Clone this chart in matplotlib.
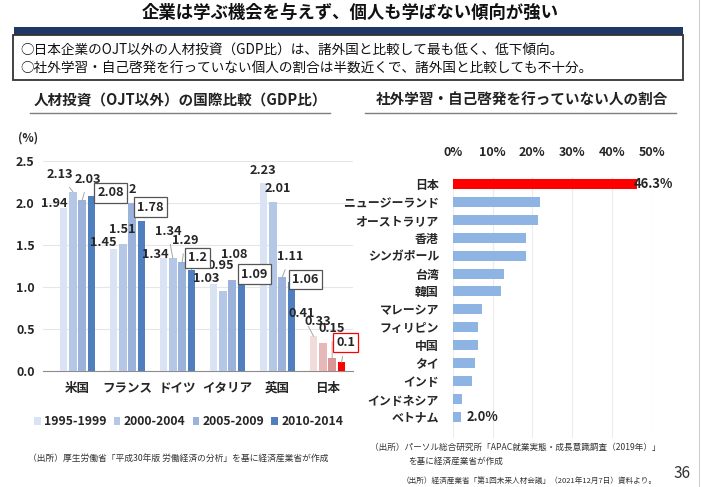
import matplotlib
matplotlib.use("Agg")
import matplotlib.pyplot as plt
from matplotlib.patches import Rectangle
from matplotlib.lines import Line2D
import numpy as np

plt.rcParams['font.family'] = ['Noto Sans CJK JP', 'DejaVu Sans']

# ---------------- data ----------------
countries_left = ['米国', 'フランス', 'ドイツ', 'イタリア', '英国', '日本']
periods = ['1995-1999', '2000-2004', '2005-2009', '2010-2014']
v_1995 = [1.94, 1.45, 1.34, 1.03, 2.23, 0.41]
v_2000 = [2.13, 1.51, 1.34, 0.95, 2.01, 0.33]
v_2005 = [2.03, 2.00, 1.29, 1.08, 1.11, 0.15]
v_2010 = [2.08, 1.78, 1.20, 1.09, 1.06, 0.10]
label_text = [
    ['1.94', '2.13', '2.03', '2.08'],
    ['1.45', '1.51', '2', '1.78'],
    ['1.34', '1.34', '1.29', '1.2'],
    ['1.03', '0.95', '1.08', '1.09'],
    ['2.23', '2.01', '1.11', '1.06'],
    ['0.41', '0.33', '0.15', '0.1'],
]
yticks_left = [0.0, 0.5, 1.0, 1.5, 2.0, 2.5]

countries_right = ['日本', 'ニュージーランド', 'オーストラリア', '香港', 'シンガポール', '台湾',
                   '韓国', 'マレーシア', 'フィリピン', '中国', 'タイ', 'インド', 'インドネシア', 'ベトナム']
share_right = [46.3, 22.0, 21.4, 18.3, 18.3, 12.9, 12.2, 7.4, 6.4, 6.3, 5.7, 4.9, 2.3, 2.0]
xticks_right = [0, 10, 20, 30, 40, 50]

# ---------------- style ----------------
blue_cols = ['#dae3f3', '#b4c7e7', '#9bb3da', '#4f7fbf']
japan_cols = ['#f2dcdb', '#e6b9b8', '#d99694', '#ff0000']
# label offsets (pixels) from bar top, leader line?
offsets = [
    [(-9, 4, 0), (-13, 17, 1), (6, 21, 1), (19, 3, 0)],
    [(-10, 6, 0), (-1, 14, 0), (0, 13, 0), (9, 14, 0)],
    [(-8, 4, 0), (-5, 27, 1), (3, 22, 1), (6, 12, 1)],
    [(-7, 6, 0), (-2, 25, 0), (2, 25, 0), (13, 5, 0)],
    [(-1, 13, 0), (5, 13, 0), (8, 21, 1), (14, 2, 0)],
    [(-12, 23, 1), (-5, 21, 0), (0, 30, 1), (4, 20, 1)],
]

W, H = 701, 487
fig = plt.figure(figsize=(W / 100, H / 100), dpi=100)

def fx(px):
    return px / W

def fy(py):
    return 1 - py / H

# page border on the right
fig.lines.append(Line2D([fx(699), fx(699)], [0, 1], transform=fig.transFigure,
                        color='#d0d0d0', linewidth=0.8))

# ---------- header ----------
fig.text(fx(350), fy(13), '企業は学ぶ機会を与えず、個人も学ばない傾向が強い',
         ha='center', va='center', fontsize=12.5, fontweight='bold', color='#111111')
fig.patches.append(Rectangle((fx(14), fy(35)), fx(669), 8 / H, transform=fig.transFigure,
                             facecolor='#1f3864', edgecolor='none'))
fig.patches.append(Rectangle((fx(13.5), fy(80)), fx(669.5), 45 / H, transform=fig.transFigure,
                             facecolor='white', edgecolor='#333333', linewidth=1.3))
fig.text(fx(20), fy(51), '○日本企業のOJT以外の人材投資（GDP比）は、諸外国と比較して最も低く、低下傾向。',
         ha='left', va='center', fontsize=9.8, color='#111111')
fig.text(fx(20), fy(69), '○社外学習・自己啓発を行っていない個人の割合は半数近くで、諸外国と比較しても不十分。',
         ha='left', va='center', fontsize=9.8, color='#111111')

# sub titles
fig.text(fx(180), fy(100), '人材投資（OJT以外）の国際比較（GDP比）', ha='center', va='center',
         fontsize=10.5, fontweight='bold', color='#222222')
fig.lines.append(Line2D([fx(30), fx(330)], [fy(113), fy(113)], transform=fig.transFigure,
                        color='#7f7f7f', linewidth=1))
fig.text(fx(522), fy(100), '社外学習・自己啓発を行っていない人の割合', ha='center', va='center',
         fontsize=10.5, fontweight='bold', color='#222222')
fig.lines.append(Line2D([fx(365), fx(676)], [fy(113), fy(113)], transform=fig.transFigure,
                        color='#7f7f7f', linewidth=1))

# ---------- left chart ----------
axL = fig.add_axes([fx(43), fy(370.7), fx(310), 210 / H])
x = np.arange(len(countries_left))
series = [v_1995, v_2000, v_2005, v_2010]
bw = 0.15
step = 0.186
for k, vals in enumerate(series):
    cols = [blue_cols[k]] * (len(vals) - 1) + [japan_cols[k]]
    xs = x + (k - 1.5) * step
    axL.bar(xs, vals, width=bw, color=cols, zorder=3, label=periods[k])
    for i, v in enumerate(vals):
        dx, dy, lead = offsets[i][k]
        bbox = None
        if k == 3:
            ec = '#ff0000' if i == len(vals) - 1 else '#555555'
            bbox = dict(boxstyle='square,pad=0.25', facecolor='white', edgecolor=ec, linewidth=0.9)
        arrow = None
        if lead:
            arrow = dict(arrowstyle='-', color='#a6a6a6', linewidth=0.7, shrinkA=3, shrinkB=0)
        axL.annotate(label_text[i][k], xy=(xs[i], v), xytext=(dx, dy), textcoords='offset pixels',
                     ha='center', va='center', fontsize=9.2, fontweight='bold', color='#262626',
                     bbox=bbox, arrowprops=arrow, zorder=5, annotation_clip=False)
axL.set_xlim(-0.69, 5.51)
axL.set_ylim(0, 2.5)
axL.set_yticks(yticks_left)
axL.set_yticklabels([f'{t:.1f}' for t in yticks_left], fontsize=9, fontweight='bold', color='#262626')
axL.set_xticks(x)
axL.set_xticklabels(countries_left, fontsize=9, fontweight='bold', color='#262626')
axL.tick_params(axis='both', length=0)
axL.tick_params(axis='y', pad=6)
axL.tick_params(axis='x', pad=8)
axL.yaxis.grid(True, color='#e6e6e6', linewidth=0.8, zorder=0)
for s in ['top', 'right', 'left']:
    axL.spines[s].set_visible(False)
axL.spines['bottom'].set_color('#8c8c8c')
axL.set_axisbelow(True)
fig.text(fx(28), fy(138), '(%)', ha='center', va='center', fontsize=8.5, fontweight='bold', color='#262626')

leg = axL.legend(loc='upper center', bbox_to_anchor=(0.47, -0.16), ncol=4, frameon=False,
                 handlelength=0.55, handleheight=0.7, handletextpad=0.25,
                 columnspacing=0.6, prop={'weight': 'bold', 'size': 8.8})
for t in leg.get_texts():
    t.set_color('#262626')

fig.text(fx(28), fy(458), '（出所）厚生労働省「平成30年版 労働経済の分析」を基に経済産業省が作成',
         ha='left', va='center', fontsize=6.3, color='#333333')

# ---------- right chart ----------
axR = fig.add_axes([fx(452.7), fy(438), fx(199), 261 / H])
yr = np.arange(len(countries_right))
cols_r = ['#ff0000'] + ['#8eb4e3'] * (len(countries_right) - 1)
axR.barh(yr, share_right, height=0.56, color=cols_r, zorder=3)
axR.set_xlim(0, 50)
axR.set_ylim(len(countries_right) - 1 + 1.2, -0.4)
axR.set_xticks(xticks_right)
axR.set_xticklabels([f'{t}%' for t in xticks_right], fontsize=9, fontweight='bold', color='#262626')
axR.xaxis.tick_top()
axR.set_yticks(yr)
axR.set_yticklabels(countries_right, fontsize=8.6, fontweight='bold', color='#262626')
axR.tick_params(axis='both', length=0)
axR.tick_params(axis='x', pad=13)
axR.tick_params(axis='y', pad=10)
axR.xaxis.grid(True, color='#ececec', linewidth=0.8, zorder=0)
for s in axR.spines.values():
    s.set_visible(False)
axR.annotate(f'{share_right[0]:.1f}%', xy=(share_right[0], yr[0]), xytext=(-3, 0),
             textcoords='offset pixels', ha='left', va='center', fontsize=9.3,
             fontweight='bold', color='#262626', zorder=5, annotation_clip=False)
axR.annotate(f'{share_right[-1]:.1f}%', xy=(share_right[-1], yr[-1]), xytext=(6, 0),
             textcoords='offset pixels', ha='left', va='center', fontsize=9.3,
             fontweight='bold', color='#262626', zorder=5, annotation_clip=False)

fig.text(fx(370), fy(447), '（出所）パーソル総合研究所「APAC就業実態・成長意識調査（2019年）」',
         ha='left', va='center', fontsize=6.2, color='#333333')
fig.text(fx(408), fy(461), 'を基に経済産業省が作成',
         ha='left', va='center', fontsize=6.2, color='#333333')
fig.text(fx(402), fy(482), '（出所）経済産業省「第1回未来人材会議」（2021年12月7日）資料より。',
         ha='left', va='center', fontsize=5.5, color='#333333')
fig.text(fx(682), fy(473), '36', ha='center', va='center', fontsize=11, color='#333333')

fig.savefig('out.png', dpi=100)
